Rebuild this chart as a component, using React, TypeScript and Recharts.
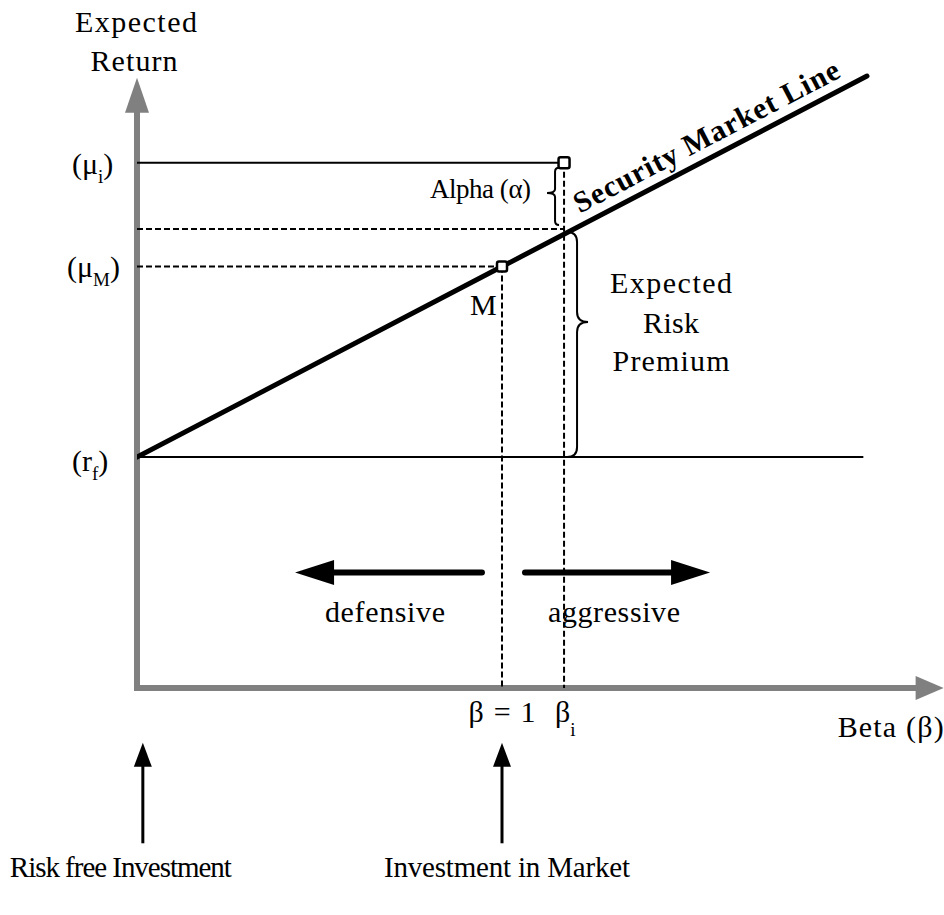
import React from 'react';
import { ComposedChart, Line, XAxis, YAxis, ReferenceLine, ReferenceDot } from 'recharts';

// ---------------- data ----------------
const smlBeta = [0, 1, 2];
const smlReturn = [4.0, 7.3, 10.6];

const levelNames = ['rf', 'muM', 'smlAtBetaI', 'muI'];
const levelValues = [4.0, 7.3, 7.95, 9.1];

const betaNames = ['market', 'asset'];
const betaValues = [1.0, 1.17];

const axisTipBeta = [2.21];
const axisTipReturn = [10.57];
const rfLineEndBeta = [1.99];

const directionLevel = [2.0];
const directionStartBeta = [0.945, 1.063];
const directionEndBeta = [0.433, 1.57];

const pointerBeta = [0.016, 1.0];
const pointerTipReturn = [-0.95];
const pointerTailReturn = [-2.69];

const labelsTop = ['Expected', 'Return'];
const labelsPremium = ['Expected', 'Risk', 'Premium'];
const labelsDirection = ['defensive', 'aggressive'];
const labelsBottom = ['Risk free Investment', 'Investment in Market'];

// ---------------- helpers ----------------
const FONT = '"Liberation Serif", "Times New Roman", serif';
const lv: Record<string, number> = Object.fromEntries(levelNames.map((n, i) => [n, levelValues[i]]));
const bv: Record<string, number> = Object.fromEntries(betaNames.map((n, i) => [n, betaValues[i]]));
const smlData = smlBeta.map((b, i) => ({ beta: b, ret: smlReturn[i] }));

const arrowShape = (color: string, shaft: number, headLen: number, headHalf: number, cap: string) => (p: any) => {
  const { x1, y1, x2, y2 } = p;
  const dx = x2 - x1;
  const dy = y2 - y1;
  const len = Math.hypot(dx, dy) || 1;
  const ux = dx / len;
  const uy = dy / len;
  const bx = x2 - ux * headLen;
  const by = y2 - uy * headLen;
  const nx = -uy;
  const ny = ux;
  return (
    <g>
      <line x1={x1} y1={y1} x2={bx + ux} y2={by + uy} stroke={color} strokeWidth={shaft} strokeLinecap={cap as any} />
      <polygon
        points={`${x2},${y2} ${bx + nx * headHalf},${by + ny * headHalf} ${bx - nx * headHalf},${by - ny * headHalf}`}
        fill={color}
      />
    </g>
  );
};

const braceShape = (offset: number, dir: number, depth: number, curl: number, tipFrac: number, padTop: number, padBot: number) => (p: any) => {
  const { x1, y1, y2 } = p;
  const x = x1 + offset;
  const yT = Math.min(y1, y2) + padTop;
  const yB = Math.max(y1, y2) - padBot;
  const yM = yT + (yB - yT) * tipFrac;
  const e = x - dir * curl;
  const d = `M${e},${yT} Q${x},${yT} ${x},${yT + curl} L${x},${yM - curl} Q${x},${yM} ${x + dir * depth},${yM} Q${x},${yM} ${x},${yM + curl} L${x},${yB - curl} Q${x},${yB} ${e},${yB}`;
  return <path d={d} fill="none" stroke="#000" strokeWidth={2} />;
};

const squareShape = (size: number) => (p: any) => (
  <rect x={p.cx - size / 2} y={p.cy - size / 2} width={size} height={size} rx={2} fill="#fff" stroke="#000" strokeWidth={2.5} />
);

type TOpts = { anchor?: 'start' | 'middle' | 'end'; size?: number; weight?: string; rotate?: number; length?: number };

const textDot = (key: string, x: number, y: number, dx: number, dy: number, content: React.ReactNode, o: TOpts = {}) => (
  <ReferenceDot
    key={key}
    x={x}
    y={y}
    r={0}
    ifOverflow="visible"
    shape={(p: any) => {
      const tx = p.cx + dx;
      const ty = p.cy + dy;
      return (
        <text
          x={tx}
          y={ty}
          textAnchor={o.anchor ?? 'start'}
          fontFamily={FONT}
          fontSize={o.size ?? 30}
          fontWeight={o.weight ?? 'normal'}
          fill="#000"
          textLength={o.length}
          lengthAdjust={o.length ? 'spacing' : undefined}
          transform={o.rotate ? `rotate(${o.rotate} ${tx} ${ty})` : undefined}
        >
          {content}
        </text>
      );
    }}
  />
);

const dash = '6 3';

export default function App() {
  const bi = bv.asset;
  const bm = bv.market;
  return (
    <div style={{ position: 'absolute', left: 0, top: 0, width: 944, height: 915, background: '#fff' }}>
      <ComposedChart width={944} height={915} data={smlData} margin={{ top: 53, right: 4, bottom: 227, left: 137 }}>
        <XAxis type="number" dataKey="beta" domain={[0, 2.2]} allowDataOverflow hide />
        <YAxis type="number" domain={[0, 11]} allowDataOverflow hide />

        {/* axes */}
        <ReferenceLine
          segment={[{ x: 0, y: 0 }, { x: 0, y: axisTipReturn[0] }]}
          ifOverflow="visible"
          shape={arrowShape('#808080', 6, 35, 12, 'square')}
        />
        <ReferenceLine
          segment={[{ x: 0, y: 0 }, { x: axisTipBeta[0], y: 0 }]}
          ifOverflow="visible"
          shape={arrowShape('#808080', 6, 28, 12, 'square')}
        />

        {/* guide lines */}
        <ReferenceLine segment={[{ x: 0, y: lv.muI }, { x: bi, y: lv.muI }]} stroke="#000" strokeWidth={2} ifOverflow="visible" />
        <ReferenceLine segment={[{ x: 0, y: lv.rf }, { x: rfLineEndBeta[0], y: lv.rf }]} stroke="#000" strokeWidth={2} ifOverflow="visible" />
        <ReferenceLine segment={[{ x: 0, y: lv.smlAtBetaI }, { x: bi, y: lv.smlAtBetaI }]} stroke="#000" strokeWidth={2} strokeDasharray={dash} ifOverflow="visible" />
        <ReferenceLine segment={[{ x: 0, y: lv.muM }, { x: bm, y: lv.muM }]} stroke="#000" strokeWidth={2} strokeDasharray={dash} ifOverflow="visible" />
        <ReferenceLine segment={[{ x: bm, y: lv.muM }, { x: bm, y: 0 }]} stroke="#000" strokeWidth={2} strokeDasharray={dash} ifOverflow="visible" />
        <ReferenceLine segment={[{ x: bi, y: lv.muI }, { x: bi, y: 0 }]} stroke="#000" strokeWidth={2} strokeDasharray={dash} ifOverflow="visible" />

        {/* braces */}
        <ReferenceLine
          segment={[{ x: bi, y: lv.muI }, { x: bi, y: lv.smlAtBetaI }]}
          ifOverflow="visible"
          shape={braceShape(-9, -1, 8, 4, 0.44, 5, 4)}
        />
        <ReferenceLine
          segment={[{ x: bi, y: lv.smlAtBetaI }, { x: bi, y: lv.rf }]}
          ifOverflow="visible"
          shape={braceShape(13, 1, 11, 10, 0.4, 3, 0)}
        />

        {/* direction arrows */}
        {directionStartBeta.map((s, i) => (
          <ReferenceLine
            key={`dir${i}`}
            segment={[{ x: s, y: directionLevel[0] }, { x: directionEndBeta[i], y: directionLevel[0] }]}
            ifOverflow="visible"
            shape={arrowShape('#000', 6, 39, 12.5, 'round')}
          />
        ))}

        {/* pointer arrows */}
        {pointerBeta.map((b, i) => (
          <ReferenceLine
            key={`ptr${i}`}
            segment={[{ x: b, y: pointerTailReturn[0] }, { x: b, y: pointerTipReturn[0] }]}
            ifOverflow="visible"
            shape={arrowShape('#000', 3, 24, 9, 'butt')}
          />
        ))}

        {/* security market line */}
        <Line
          dataKey="ret"
          stroke="#000"
          strokeWidth={5}
          strokeLinecap="round"
          dot={false}
          activeDot={false}
          isAnimationActive={false}
        />

        {/* points */}
        <ReferenceDot x={bi} y={lv.muI} r={5} ifOverflow="visible" shape={squareShape(11)} />
        <ReferenceDot x={bm} y={lv.muM} r={5} ifOverflow="visible" shape={squareShape(10)} />

        {/* texts */}
        {textDot('t0', 0, axisTipReturn[0], -1, -46, labelsTop[0], { anchor: 'middle', length: 122 })}
        {textDot('t1', 0, axisTipReturn[0], -3, -7, labelsTop[1], { anchor: 'middle', length: 87 })}

        {textDot('lmi', 0, lv.muI, -65, 11, <>(μ<tspan dy={9} fontSize={19}>i</tspan><tspan dy={-9}>)</tspan></>)}
        {textDot('lmm', 0, lv.muM, -70, 10, <>(μ<tspan dy={9} fontSize={19}>M</tspan><tspan dy={-9}>)</tspan></>)}
        {textDot('lrf', 0, lv.rf, -65, 14, <>(r<tspan dy={9} fontSize={19}>f</tspan><tspan dy={-9}>)</tspan></>)}

        {textDot('alpha', bi, lv.muI, -134, 35, 'Alpha (α)', { size: 27, length: 101 })}
        {textDot('sml', smlBeta[2], smlReturn[2], -156, 69, 'Security Market Line', { anchor: 'middle', weight: 'bold', rotate: -27.6, length: 296 })}
        {textDot('m', bm, lv.muM, -32, 48, 'M')}

        {labelsPremium.map((t, i) =>
          textDot(`p${i}`, bi, lv.smlAtBetaI, 107, [64, 104, 142][i], t, { anchor: 'middle', length: [122, 56, 117][i] })
        )}

        {textDot('def', bm, directionLevel[0], -117, 49, labelsDirection[0], { anchor: 'middle', length: 120 })}
        {textDot('agg', bm, directionLevel[0], 112, 49, labelsDirection[1], { anchor: 'middle', length: 132 })}

        {textDot('b1', bm, 0, 0, 34, 'β = 1', { anchor: 'middle', length: 67 })}
        {textDot('bi', bi, 0, -9, 34, <>β<tspan dy={14} fontSize={19}>i</tspan></>)}
        {textDot('beta', axisTipBeta[0], 0, 0, 49, 'Beta (β)', { anchor: 'end', length: 106 })}

        {textDot('bot0', pointerBeta[0], pointerTailReturn[0], -22, 34, labelsBottom[0], { anchor: 'middle', size: 29, length: 222 })}
        {textDot('bot1', pointerBeta[1], pointerTailReturn[0], 5, 34, labelsBottom[1], { anchor: 'middle', size: 29, length: 246 })}
      </ComposedChart>
    </div>
  );
}
